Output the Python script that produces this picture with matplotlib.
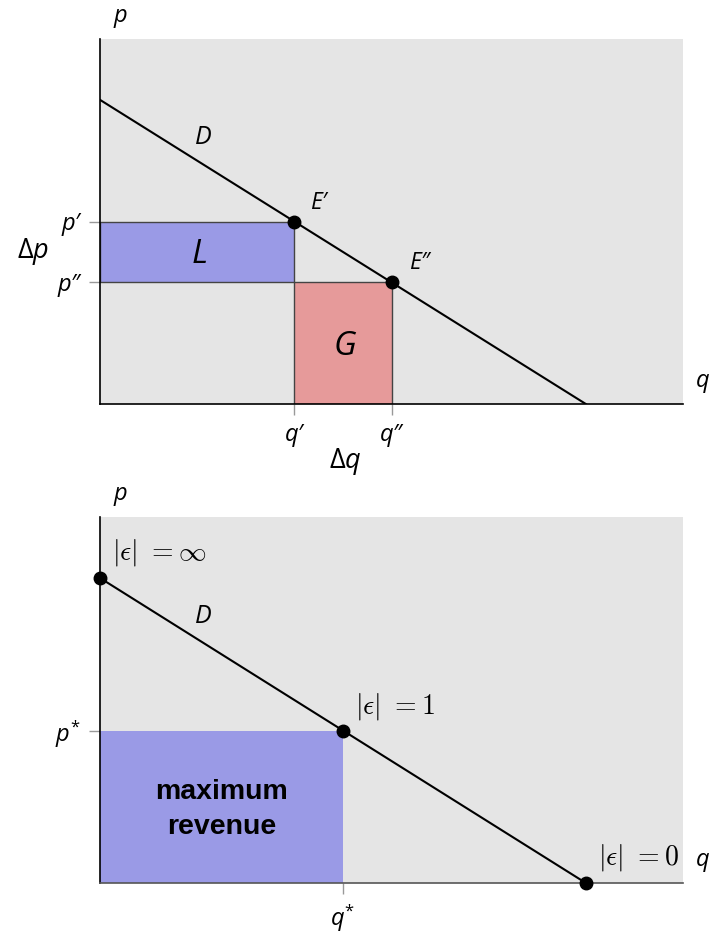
import matplotlib
matplotlib.use("Agg")
import matplotlib.pyplot as plt
from matplotlib.patches import Rectangle

plt.rcParams["font.family"] = ["Open Sans", "DejaVu Sans"]
plt.rcParams["font.style"] = "italic"
plt.rcParams["mathtext.fontset"] = "custom"
plt.rcParams["mathtext.it"] = "Open Sans:style=italic"
plt.rcParams["mathtext.rm"] = "Open Sans:style=normal"

# 需要曲線 (両パネル共通)
demand_q = [0, 10]
demand_p = [10, 0]

# 上: 価格変化による損失 L と利得 G
eq_q = [4, 6]
eq_p = [6, 4]
eq_labels = ["E\u2032", "E\u2033"]
top_xticks = ["q\u2032", "q\u2033"]
top_yticks = ["p\u2033", "p\u2032"]

# 下: 弾力性と最大収入
el_q = [0, 5, 10]
el_p = [10, 5, 0]
el_labels = [r"$|\epsilon|\ =\infty$", r"$|\epsilon|\ =1$", r"$|\epsilon|\ =0$"]
opt_q = 5
opt_p = 5

bg = "#e5e5e5"
blue = "#9a9ae6"
red = "#e69a9a"

fig = plt.figure(figsize=(7.11, 9.34), dpi=100)
ax1 = fig.add_axes([100 / 711, 530 / 934, 583 / 711, 365 / 934])
ax2 = fig.add_axes([100 / 711, 51 / 934, 583 / 711, 366 / 934])

for ax in (ax1, ax2):
    ax.set_facecolor(bg)
    ax.set_xlim(0, 12)
    ax.set_ylim(0, 12)
    for s in ("top", "right"):
        ax.spines[s].set_visible(False)
    ax.spines["left"].set_color("black")
    ax.spines["left"].set_linewidth(1.2)
    ax.spines["bottom"].set_linewidth(1.2)
    ax.tick_params(direction="out", length=8, width=1, color="#999999",
                   labelsize=17, pad=6)
    ax.plot(demand_q, demand_p, color="black", lw=1.5, zorder=3)
    ax.text(2.12, 8.75, "D", fontsize=18, ha="center", va="center")
    ax.text(0.41, 12.75, "p", fontsize=17, ha="center", va="center", clip_on=False)
    ax.text(12.41, 0.75, "q", fontsize=17, ha="center", va="center", clip_on=False)

ax1.spines["bottom"].set_color("black")
ax2.spines["bottom"].set_color("#555555")

# 上パネル
ax1.add_patch(Rectangle((0, eq_p[1]), eq_q[0], eq_p[0] - eq_p[1], facecolor=blue,
                        edgecolor="#444444", lw=1, zorder=2))
ax1.add_patch(Rectangle((eq_q[0], 0), eq_q[1] - eq_q[0], eq_p[1], facecolor=red,
                        edgecolor="#444444", lw=1, zorder=2))
ax1.plot(eq_q, eq_p, "o", color="black", ms=9, zorder=4)
ax1.text(eq_q[0] + 0.5, eq_p[0] + 0.62, eq_labels[0], fontsize=16.5, ha="center", va="center")
ax1.text(eq_q[1] + 0.58, eq_p[1] + 0.64, eq_labels[1], fontsize=16.5, ha="center", va="center")
ax1.text(eq_q[0] / 2 + 0.06, (eq_p[0] + eq_p[1]) / 2 - 0.07, "L", fontsize=24,
         ha="center", va="center")
ax1.text((eq_q[0] + eq_q[1]) / 2 + 0.04, eq_p[1] / 2 - 0.12, "G", fontsize=24,
         ha="center", va="center")
ax1.set_xticks(eq_q, top_xticks)
ax1.set_yticks(sorted(eq_p), top_yticks)
ax1.text(-1.37, 5.0, r"$\Delta p$", fontsize=19.5, ha="center", va="center", clip_on=False)
ax1.text(5.04, -1.9, r"$\Delta q$", fontsize=19.5, ha="center", va="center", clip_on=False)

# 下パネル
ax2.add_patch(Rectangle((0, 0), opt_q, opt_p, facecolor=blue, edgecolor="none", zorder=2))
ax2.plot(el_q, el_p, "o", color="black", ms=9, zorder=4, clip_on=False)
ax2.text(el_q[0] + 0.25, el_p[0] + 0.85, el_labels[0], fontsize=20, ha="left",
         va="center", math_fontfamily="cm")
ax2.text(el_q[1] + 0.25, el_p[1] + 0.8, el_labels[1], fontsize=20, ha="left",
         va="center", math_fontfamily="cm")
ax2.text(el_q[2] + 0.25, el_p[2] + 0.82, el_labels[2], fontsize=20, ha="left",
         va="center", math_fontfamily="cm")
ax2.text(opt_q / 2, opt_p / 2 - 0.1, "maximum\nrevenue", fontsize=20.5, fontweight="bold",
         fontstyle="normal", family="Liberation Sans", ha="center", va="center",
         linespacing=1.45)
ax2.set_xticks([opt_q], ["$q^{*}$"])
ax2.set_yticks([opt_p], ["$p^{*}$"])

fig.savefig("out.png", dpi=100, facecolor="white")
